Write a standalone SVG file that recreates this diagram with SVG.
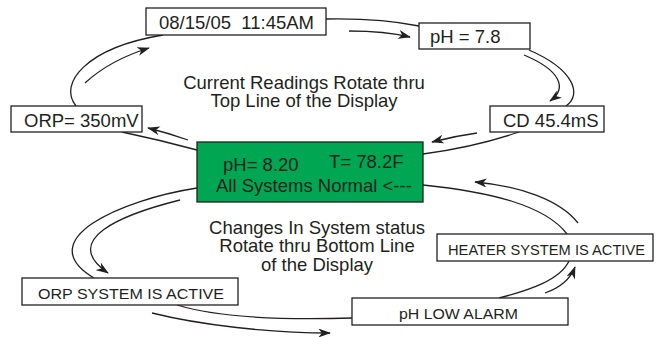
<svg xmlns="http://www.w3.org/2000/svg" width="657" height="337" viewBox="0 0 657 337">
<style>
.box{fill:#fff;stroke:#231f20;stroke-width:1.3}
.green{fill:#00a651;stroke:#231f20;stroke-width:1.3}
.t{font-family:"Liberation Sans",Arial,sans-serif;font-size:18.5px;fill:#231f20}
.s{font-family:"Liberation Sans",Arial,sans-serif;font-size:15px;fill:#231f20}
.c{fill:none;stroke:#231f20;stroke-width:1.3}
.a{fill:none;stroke:#231f20;stroke-width:1.3;marker-end:url(#ah)}
</style>
<defs>
<marker id="ah" viewBox="0 0 14 10" refX="13" refY="5" markerWidth="13" markerHeight="9" markerUnits="userSpaceOnUse" orient="auto">
<path d="M0,0 L14,5 L0,10 L4,5 z" fill="#231f20"/>
</marker>
</defs>
<g id="connectors">
<path class="c" d="M76,106 C58,84 85,48 163,35"/>
<path class="a" d="M85,83 Q110,60 149,48"/>
<path class="c" d="M326,19 Q380,18 419,26"/>
<path class="a" d="M349,31 Q385,31 410,37"/>
<path class="c" d="M529,50 C575,70 582,95 566,106"/>
<path class="a" d="M524,55 C560,70 568,88 550,101"/>
<path class="c" d="M519,132 Q475,147 423,154"/>
<path class="a" d="M477,133 Q455,136 432,142"/>
<path class="c" d="M197,150 Q160,140 122,132"/>
<path class="a" d="M188,140 Q168,133 148,128"/>
<path class="c" d="M197,188 C120,200 30,240 94,278"/>
<path class="a" d="M180,200 C120,215 60,240 108,273"/>
<path class="c" d="M177,305 C220,318 290,320 352,318"/>
<path class="a" d="M152,313 C200,325 270,333 330,333"/>
<path class="c" d="M499,298 C530,290 560,280 569,261"/>
<path class="a" d="M545,293 Q568,285 575,267"/>
<path class="c" d="M567,234 C545,205 490,192 423,185"/>
<path class="a" d="M578,223 C560,200 520,186 475,182"/>
</g>
<g id="date">
<rect class="box" x="146" y="8" width="180" height="27"/>
<text class="t" x="159" y="29" xml:space="preserve">08/15/05  11:45AM</text>
</g>
<g id="ph">
<rect class="box" x="419" y="23" width="111" height="26"/>
<text class="t" x="430" y="43">pH = 7.8</text>
</g>
<g id="cd">
<rect class="box" x="490" y="106" width="114" height="26"/>
<text class="t" x="503" y="127">CD 45.4mS</text>
</g>
<g id="orp">
<rect class="box" x="11" y="106" width="131" height="26"/>
<text class="t" x="24" y="127">ORP= 350mV</text>
</g>
<g id="display">
<rect class="green" x="197" y="142" width="226" height="60"/>
<text class="t" x="223" y="171">pH= 8.20</text>
<text class="t" x="329" y="168">T= 78.2F</text>
<text class="t" x="216" y="192">All Systems Normal &lt;---</text>
</g>
<g id="top-label">
<text class="t" x="304" y="89" text-anchor="middle">Current Readings Rotate thru</text>
<text class="t" x="304" y="107" text-anchor="middle">Top Line of the Display</text>
</g>
<g id="bottom-label">
<text class="t" x="317" y="234" text-anchor="middle">Changes In System status</text>
<text class="t" x="317" y="252" text-anchor="middle">Rotate thru Bottom Line</text>
<text class="t" x="317" y="271" text-anchor="middle">of the Display</text>
</g>
<g id="orp-active">
<rect class="box" x="22" y="278" width="216" height="27"/>
<text class="s" x="38" y="299" textLength="186" lengthAdjust="spacingAndGlyphs">ORP SYSTEM IS ACTIVE</text>
</g>
<g id="heater-active">
<rect class="box" x="437" y="234" width="216" height="27"/>
<text class="s" x="448" y="255" textLength="197" lengthAdjust="spacingAndGlyphs">HEATER SYSTEM IS ACTIVE</text>
</g>
<g id="ph-low">
<rect class="box" x="352" y="298" width="216" height="27"/>
<text class="s" x="399" y="319" textLength="119" lengthAdjust="spacingAndGlyphs">pH LOW ALARM</text>
</g>
</svg>
